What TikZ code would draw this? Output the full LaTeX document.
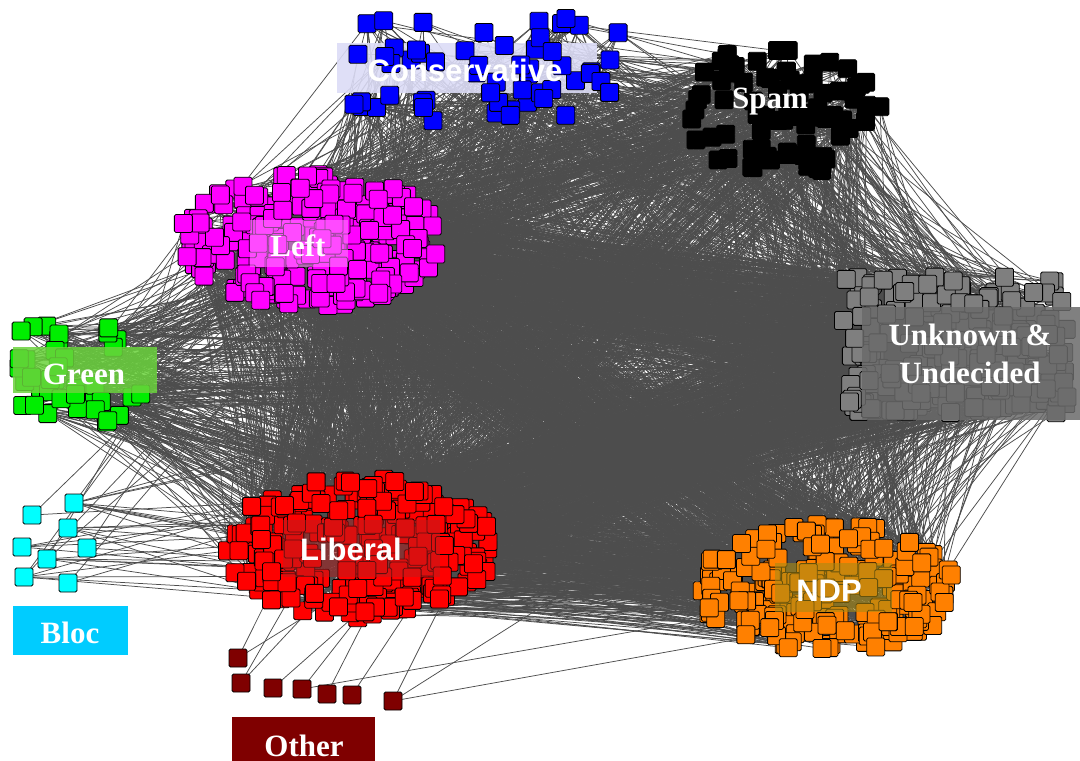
\documentclass[tikz,border=0pt]{standalone}
\usepackage{fontspec}
\setmainfont{Liberation Serif}
\newfontfamily\arialf{Liberation Sans}
\pgfdeclarelayer{bg}
\pgfdeclarelayer{mid}
\pgfdeclarelayer{fg}
\pgfsetlayers{bg,mid,main,fg}
\definecolor{edgec}{HTML}{4D4D4D}
\definecolor{conc}{HTML}{0000FF}
\definecolor{spamc}{HTML}{000000}
\definecolor{leftc}{HTML}{FF00FF}
\definecolor{greenc}{HTML}{00EE00}
\definecolor{unkc}{HTML}{7F7F7F}
\definecolor{libc}{HTML}{FF0000}
\definecolor{ndpc}{HTML}{FF8000}
\definecolor{blocc}{HTML}{00FFFF}
\definecolor{othc}{HTML}{7F0000}
\definecolor{blocbox}{HTML}{00CCFF}
\definecolor{conbox}{HTML}{DCDCF6}
\definecolor{leftbox}{HTML}{FF88FF}
\definecolor{greenbox}{HTML}{6AD23C}
\definecolor{unkbox}{HTML}{6A6A6A}
\definecolor{libbox}{HTML}{B81E1E}
\definecolor{ndpbox}{HTML}{A88A14}
\tikzset{
  sq/.style={draw=black, rounded corners=1.5pt, minimum size=18pt, inner sep=0pt, line width=0.8pt},
  edge/.style={draw=edgec, line width=0.75pt},
  lab/.style={text=white, inner sep=0pt, font=\bfseries\fontsize{31}{38}\selectfont},
  labsans/.style={text=white, inner sep=0pt, font=\arialf\bfseries\fontsize{31}{38}\selectfont}
}
% elliptic blob: prefix, N, cx, cy, rx, ry, colour
\newcommand\blobE[7]{%
  \foreach \i in {1,...,#2}{%
    \pgfmathsetmacro\myang{360*rnd}%
    \pgfmathsetmacro\myrr{sqrt(rnd)}%
    \node[sq, fill=#7] (#1\i) at ({#3+#5*\myrr*cos(\myang)},{#4+#6*\myrr*sin(\myang)}) {};
  }}
% rectangular blob
\newcommand\blobR[7]{%
  \foreach \i in {1,...,#2}{%
    \pgfmathsetmacro\myxx{#3+#5*rand}%
    \pgfmathsetmacro\myyy{#4+#6*rand}%
    \node[sq, fill=#7] (#1\i) at (\myxx,\myyy) {};
  }}
% random links: prefixA, NA, prefixB, NB, count
\newcommand\mklinks[5]{%
  \foreach \k in {1,...,#5}{%
    \pgfmathrandominteger{\myia}{1}{#2}%
    \pgfmathrandominteger{\myib}{1}{#4}%
    \draw[edge] (#1\myia.center) -- (#3\myib.center);
  }}
\begin{document}
\begin{tikzpicture}[x=1pt,y=-1pt]
\useasboundingbox (0,0) rectangle (1080,761);
\pgfmathsetseed{4242}
% clusters
\blobR{con}{55}{485}{70}{138}{52}{conc}
\blobE{spam}{80}{782}{110}{102}{66}{spamc}
\blobE{left}{270}{310}{240}{132}{67}{leftc}
\blobR{grn}{38}{85}{372}{66}{50}{greenc}
\blobR{unk}{260}{955}{345}{112}{68}{unkc}
\blobE{lib}{270}{360}{548}{135}{70}{libc}
\blobE{ndp}{230}{828}{588}{130}{64}{ndpc}
% Bloc nodes
\foreach \x/\y [count=\i] in {32/515,74/503,68/528,22/547,47/559,87/548,24/577,68/583}
  \node[sq, fill=blocc] (bloc\i) at (\x,\y) {};
% Other nodes
\foreach \x/\y [count=\i] in {238/658,241/683,273/688,302/689,327/694,352/695,393/701}
  \node[sq, fill=othc] (oth\i) at (\x,\y) {};
% edges
\begin{pgfonlayer}{bg}
\mklinks{left}{270}{unk}{260}{650}
\mklinks{lib}{270}{unk}{260}{700}
\mklinks{left}{270}{ndp}{230}{500}
\mklinks{lib}{270}{ndp}{230}{450}
\mklinks{left}{270}{lib}{270}{420}
\mklinks{spam}{80}{left}{270}{230}
\mklinks{spam}{80}{lib}{270}{220}
\mklinks{spam}{80}{unk}{260}{120}
\mklinks{spam}{80}{ndp}{230}{110}
\mklinks{con}{55}{left}{270}{140}
\mklinks{con}{55}{lib}{270}{140}
\mklinks{con}{55}{unk}{260}{80}
\mklinks{con}{55}{ndp}{230}{70}
\mklinks{con}{55}{spam}{80}{80}
\mklinks{grn}{38}{left}{270}{80}
\mklinks{grn}{38}{lib}{270}{90}
\mklinks{grn}{38}{unk}{260}{80}
\mklinks{grn}{38}{ndp}{230}{60}
\mklinks{grn}{38}{spam}{80}{20}
\mklinks{unk}{260}{ndp}{230}{150}
\mklinks{bloc}{8}{lib}{270}{22}
\mklinks{bloc}{8}{left}{270}{8}
\mklinks{bloc}{8}{unk}{260}{6}
\mklinks{bloc}{8}{ndp}{230}{4}
\draw[edge] (oth1.center) -- (lib40.center);
\draw[edge] (oth1.center) -- (lib12.center);
\draw[edge] (oth2.center) -- (lib77.center);
\draw[edge] (oth2.center) -- (lib150.center);
\draw[edge] (oth3.center) -- (lib9.center);
\draw[edge] (oth4.center) -- (lib33.center);
\draw[edge] (oth4.center) -- (ndp20.center);
\draw[edge] (oth5.center) -- (lib101.center);
\draw[edge] (oth6.center) -- (lib61.center);
\draw[edge] (oth7.center) -- (lib88.center);
\draw[edge] (oth7.center) -- (ndp5.center);
\draw[edge] (oth7.center) -- (unk30.center);
\end{pgfonlayer}
% label boxes
\begin{pgfonlayer}{mid}
\fill[conbox, opacity=.9] (337,43) rectangle (597,93);
\end{pgfonlayer}
\begin{pgfonlayer}{fg}
\fill[leftbox, opacity=.55] (250,220) rectangle (348,267);
\fill[greenbox, opacity=.85] (13,347) rectangle (157,393);
\fill[unkbox, opacity=.85] (862,307) rectangle (1080,420);
\fill[libbox, opacity=.5] (283,520) rectangle (440,577);
\fill[ndpbox, opacity=.6] (775,563) rectangle (892,612);
\fill[blocbox] (13,606) rectangle (128,655);
\fill[othc] (232,717) rectangle (375,761);
\node[labsans] (tcon) at (465,70) {Conservative};
\node[lab] (tspam) at (770,102) {Spam};
\node[lab] (tleft) at (298,246) {Left};
\node[lab] (tgrn) at (84,374) {Green};
\node[lab, align=center] (tunk) at (970,354) {Unknown \&\\Undecided};
\node[labsans] (tlib) at (351,549) {Liberal};
\node[labsans] (tndp) at (829,591) {NDP};
\node[lab] (tbloc) at (70,633) {Bloc};
\node[lab, anchor=base] (toth) at (304,756) {Other};
\end{pgfonlayer}
\end{tikzpicture}
\end{document}
